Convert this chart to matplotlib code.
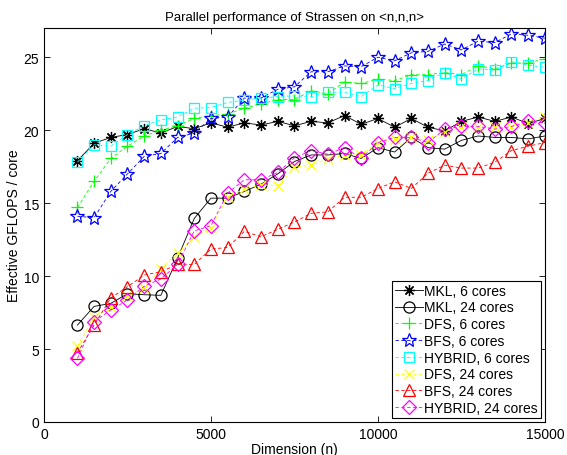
import matplotlib
matplotlib.use('Agg')
import matplotlib.pyplot as plt

plt.rcParams['font.family'] = ['Liberation Sans', 'DejaVu Sans']

dims = list(range(1000, 15001, 500))

mkl_6 = [17.9, 19.1, 19.5, 19.7, 20.1, 19.8, 20.25, 20.1, 20.5, 20.2, 20.5, 20.35, 20.6, 20.3, 20.6,
         20.5, 21.0, 20.4, 20.8, 20.2, 20.8, 20.2, 19.95, 20.6, 20.9, 20.6, 20.9, 20.45, 20.8]
mkl_24 = [6.64, 7.92, 8.13, 8.79, 8.72, 8.68, 11.23, 13.95, 15.34, 15.34, 15.8, 16.3, 17.0, 17.85, 18.3,
          18.3, 18.4, 18.06, 18.8, 18.5, 19.5, 18.8, 18.7, 19.3, 19.6, 19.5, 19.5, 19.4, 19.6]
dfs_6 = [14.7, 16.5, 18.06, 18.9, 19.6, 20.0, 20.3, 20.8, 21.0, 21.1, 21.5, 21.8, 22.1, 22.1, 22.7,
         22.5, 23.3, 23.2, 23.5, 23.4, 23.8, 23.8, 23.95, 23.8, 24.4, 24.2, 24.6, 24.6, 24.9]
bfs_6 = [14.1, 14.0, 15.8, 17.0, 18.2, 18.4, 19.5, 19.8, 20.8, 20.9, 22.2, 22.2, 22.8, 22.97, 24.0,
         24.0, 24.4, 24.35, 25.0, 24.75, 25.3, 25.4, 25.9, 25.5, 26.1, 26.0, 26.6, 26.5, 26.3]
hybrid_6 = [17.8, 19.0, 18.9, 19.7, 20.3, 20.7, 20.9, 21.5, 21.55, 21.9, 22.05, 22.2, 22.3, 22.35, 22.3,
            22.6, 22.6, 22.3, 23.1, 22.85, 23.2, 23.4, 23.95, 23.5, 24.2, 24.1, 24.7, 24.45, 24.3]
dfs_24 = [5.2, 7.2, 7.85, 8.6, 9.2, 10.5, 11.6, 12.65, 13.3, 15.45, 15.96, 16.25, 16.2, 17.45, 17.6,
          18.0, 18.3, 18.3, 19.15, 19.4, 19.5, 19.3, 19.9, 20.2, 20.2, 20.2, 20.2, 20.5, 20.9]
bfs_24 = [4.73, 6.64, 8.5, 9.27, 10.07, 10.3, 10.8, 10.8, 11.85, 11.96, 13.06, 12.7, 13.2, 13.7, 14.3,
          14.4, 15.4, 15.4, 16.0, 16.46, 16.0, 17.05, 17.6, 17.4, 17.4, 17.8, 18.6, 18.9, 19.15]
hybrid_24 = [4.36, 6.87, 7.67, 8.36, 9.3, 9.8, 10.8, 13.1, 13.45, 15.7, 16.6, 16.6, 17.1, 18.1, 18.6,
             18.35, 18.8, 18.06, 19.15, 19.5, 19.5, 19.15, 20.07, 20.25, 20.25, 20.07, 20.25, 20.6, 20.5]

# values, label, colour, linestyle, marker, marker size
series = [
    (mkl_6, 'MKL, 6 cores', 'k', '-', (8, 2, 0), 8),
    (mkl_24, 'MKL, 24 cores', 'k', '-', 'o', 8),
    (dfs_6, 'DFS, 6 cores', '#00ff00', '--', '+', 8.5),
    (bfs_6, 'BFS, 6 cores', '#0000ff', '--', '*', 10.5),
    (hybrid_6, 'HYBRID, 6 cores', '#00ffff', '--', 's', 7),
    (dfs_24, 'DFS, 24 cores', '#ffff00', '--', 'x', 6.5),
    (bfs_24, 'BFS, 24 cores', '#ff0000', '--', '^', 8.5),
    (hybrid_24, 'HYBRID, 24 cores', '#ff00ff', '--', 'D', 7),
]

fig = plt.figure(figsize=(5.67, 4.56), dpi=100)
ax = fig.add_axes([0.0776, 0.0724, 0.8834, 0.8640])

for vals, label, color, ls, marker, size in series:
    kw = dict(dashes=(4, 3)) if ls == '--' else {}
    ax.plot(dims, vals, color=color, ls=ls, lw=0.6, marker=marker, ms=size,
            mfc='none', mec=color, mew=0.9, label=label, **kw)

ax.set_xlim(0, 15000)
ax.set_ylim(0, 27)
ax.set_xticks([0, 5000, 10000, 15000])
ax.set_yticks([0, 5, 10, 15, 20, 25])
ax.tick_params(direction='in', top=True, right=True, labelsize=10, length=4, width=0.6)
for sp in ax.spines.values():
    sp.set_linewidth(0.8)

ax.set_xlabel('Dimension (n)', fontsize=10, labelpad=1)
ax.set_ylabel('Effective GFLOPS / core', fontsize=10, labelpad=2)
ax.set_title('Parallel performance of Strassen on <n,n,n>', fontsize=9.5, pad=6)

leg = ax.legend(loc='lower right', fontsize=10, fancybox=False, framealpha=1,
                edgecolor='k', handlelength=2.0, handletextpad=0.1, borderpad=0.2,
                labelspacing=0.2, borderaxespad=0.3)
leg.get_frame().set_linewidth(0.8)

fig.savefig('out.png', dpi=100)
